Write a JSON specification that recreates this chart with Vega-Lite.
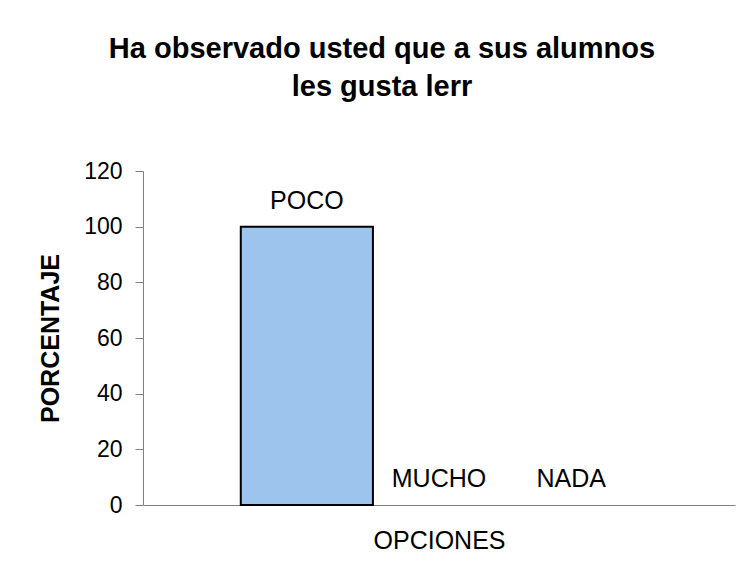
{
  "$schema": "https://vega.github.io/schema/vega-lite/v6.json",
  "width": 592,
  "height": 334,
  "autosize": "none",
  "padding": {"left": 143, "top": 171, "right": 8, "bottom": 73},
  "background": "white",
  "config": {
    "font": "Liberation Sans",
    "view": {"stroke": null}
  },
  "title": {
    "text": ["Ha observado usted que a sus alumnos", "les gusta lerr"],
    "fontSize": 29,
    "fontWeight": "bold",
    "font": "Liberation Sans",
    "color": "#000000",
    "anchor": "middle",
    "frame": "group",
    "dx": -57,
    "offset": 58,
    "lineHeight": 38
  },
  "data": {
    "values": [
      {"opcion": "POCO", "porcentaje": 100},
      {"opcion": "MUCHO", "porcentaje": 0},
      {"opcion": "NADA", "porcentaje": 0}
    ]
  },
  "encoding": {
    "x": {
      "field": "opcion",
      "type": "nominal",
      "sort": ["POCO", "MUCHO", "NADA"],
      "scale": {"paddingInner": 0, "paddingOuter": 0.74},
      "axis": {
        "title": "OPCIONES",
        "labels": false,
        "ticks": false,
        "domainColor": "#808080",
        "domainWidth": 1,
        "titleFontSize": 25,
        "titleFontWeight": "normal",
        "titleColor": "#000000",
        "titlePadding": 23
      }
    },
    "y": {
      "field": "porcentaje",
      "type": "quantitative",
      "scale": {"domain": [0, 120]},
      "axis": {
        "title": "PORCENTAJE",
        "values": [0, 20, 40, 60, 80, 100, 120],
        "grid": false,
        "domainColor": "#808080",
        "tickColor": "#808080",
        "tickSize": 8,
        "labelFontSize": 23,
        "labelColor": "#000000",
        "labelPadding": 13,
        "titleFontSize": 25,
        "titleFontWeight": "bold",
        "titleColor": "#000000",
        "titlePadding": 20
      }
    }
  },
  "layer": [
    {
      "transform": [{"filter": "datum.porcentaje > 0"}],
      "mark": {"type": "bar", "fill": "#9DC4EC", "stroke": "#000000", "strokeWidth": 2}
    },
    {
      "mark": {"type": "text", "baseline": "alphabetic", "dy": -18, "fontSize": 25, "color": "#000000"},
      "encoding": {"text": {"field": "opcion"}}
    }
  ]
}
